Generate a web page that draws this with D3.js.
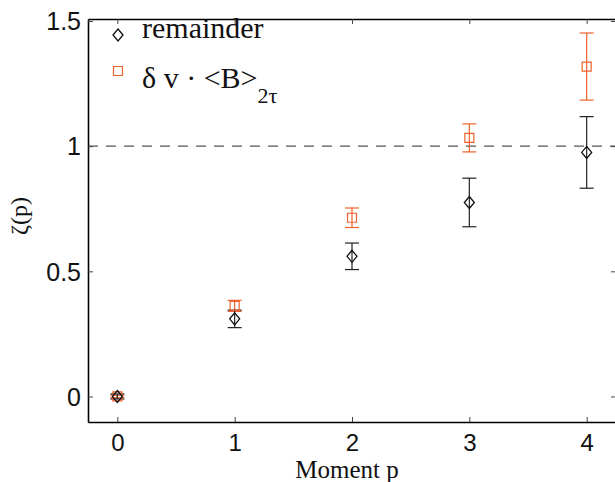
<!DOCTYPE html>
<html>
<head>
<meta charset="utf-8">
<script src="https://cdn.jsdelivr.net/npm/d3@7"></script>
<style>
  body { margin: 0; background: #fff; }
  svg { display: block; }
</style>
</head>
<body>
<div id="chart"></div>
<script>
var width = 615, height = 482;

// moment p
var moments = [0, 1, 2, 3, 4];
// remainder: zeta(p) and error
var remainderVals = [0, 0.31, 0.56, 0.775, 0.975];
var remainderErr  = [0.01, 0.035, 0.053, 0.097, 0.143];
// delta v . <B>_2tau
var dvbVals = [0, 0.362, 0.714, 1.033, 1.318];
var dvbErr  = [0.005, 0.022, 0.039, 0.056, 0.134];
var xTicks = [0, 1, 2, 3, 4];
var yTicks = [0, 0.5, 1, 1.5];

var orange = "#f0602c";

var svg = d3.select('#chart').append('svg')
    .attr('width', width)
    .attr('height', height);

var x = d3.scaleLinear().domain([-0.25, 4.25]).range([88, 616]);
var y = d3.scaleLinear().domain([-0.102, 1.508]).range([422, 19]);

var sans = "'Liberation Sans', Arial, sans-serif";
var serif = "'Liberation Serif', 'Times New Roman', serif";

// dashed reference line at 1
svg.append('line')
    .attr('x1', x.range()[0]).attr('x2', x.range()[1])
    .attr('y1', y(1)).attr('y2', y(1))
    .attr('stroke', '#555').attr('stroke-width', 1.2)
    .attr('stroke-dasharray', '10,8');

// axes (ticks pointing inwards)
var gx = svg.append('g').attr('transform', 'translate(0,' + y.range()[0] + ')')
    .call(d3.axisBottom(x).tickValues(xTicks).tickSizeInner(-5).tickSizeOuter(0).tickPadding(12).tickFormat(d3.format('d')));
var gxt = svg.append('g').attr('transform', 'translate(0,' + y.range()[1] + ')')
    .call(d3.axisTop(x).tickValues(xTicks).tickSizeInner(-5).tickSizeOuter(0).tickFormat(''));
var gy = svg.append('g').attr('transform', 'translate(' + x.range()[0] + ',0)')
    .call(d3.axisLeft(y).tickValues(yTicks).tickSizeInner(-5).tickSizeOuter(0).tickPadding(7).tickFormat(function(d){ return d3.format('')(d); }));
var gyr = svg.append('g').attr('transform', 'translate(' + x.range()[1] + ',0)')
    .call(d3.axisRight(y).tickValues(yTicks).tickSizeInner(-5).tickSizeOuter(0).tickFormat(''));

[gx, gxt, gy, gyr].forEach(function(g) {
  g.select('.domain').attr('stroke', '#000').attr('stroke-width', 1.6);
  g.selectAll('.tick line').attr('stroke', '#444').attr('stroke-width', 1);
  g.selectAll('.tick text').attr('font-family', sans).attr('font-size', 25).attr('fill', '#111');
});
gx.selectAll('.tick text').attr('font-size', 24).attr('dy', '0.71em');
gy.selectAll('.tick text').attr('dy', '0.35em');

// error bars
function errorBars(vals, errs, color, cls) {
  var g = svg.append('g').attr('class', cls);
  var pts = moments.map(function(m, i) { return {p: m, v: vals[i], e: errs[i]}; });
  g.selectAll('line.v').data(pts).enter().append('line')
    .attr('x1', function(d){ return x(d.p); }).attr('x2', function(d){ return x(d.p); })
    .attr('y1', function(d){ return y(d.v - d.e); }).attr('y2', function(d){ return y(d.v + d.e); })
    .attr('stroke', color).attr('stroke-width', 1.2);
  ['lo', 'hi'].forEach(function(k) {
    g.selectAll('line.' + k).data(pts).enter().append('line')
      .attr('x1', function(d){ return x(d.p) - 7; }).attr('x2', function(d){ return x(d.p) + 7; })
      .attr('y1', function(d){ return y(k === 'lo' ? d.v - d.e : d.v + d.e); })
      .attr('y2', function(d){ return y(k === 'lo' ? d.v - d.e : d.v + d.e); })
      .attr('stroke', color).attr('stroke-width', 1.2);
  });
  return pts;
}

var dvbPts = errorBars(dvbVals, dvbErr, orange, 'dvb');
var remPts = errorBars(remainderVals, remainderErr, '#222', 'rem');

var diamond = 'M0,-6L5,0L0,6L-5,0Z';
var square = 'M-4.5,-4.5H4.5V4.5H-4.5Z';

svg.append('g').selectAll('path').data(dvbPts).enter().append('path')
    .attr('d', square)
    .attr('transform', function(d){ return 'translate(' + x(d.p) + ',' + y(d.v) + ')'; })
    .attr('fill', 'none').attr('stroke', orange).attr('stroke-width', 1.2);

svg.append('g').selectAll('path').data(remPts).enter().append('path')
    .attr('d', diamond)
    .attr('transform', function(d){ return 'translate(' + x(d.p) + ',' + y(d.v) + ')'; })
    .attr('fill', 'none').attr('stroke', '#111').attr('stroke-width', 1.3);

// legend
var leg = svg.append('g');
leg.append('path').attr('d', diamond).attr('transform', 'translate(118,35)')
    .attr('fill', 'none').attr('stroke', '#111').attr('stroke-width', 1.3);
leg.append('text').attr('x', 142).attr('y', 38)
    .attr('font-family', serif).attr('font-size', 30).attr('fill', '#111').text('remainder');
leg.append('path').attr('d', square).attr('transform', 'translate(118,71)')
    .attr('fill', 'none').attr('stroke', orange).attr('stroke-width', 1.2);
var t2 = leg.append('text').attr('x', 142).attr('y', 88)
    .attr('font-family', serif).attr('font-size', 30).attr('fill', '#111');
t2.append('tspan').text('\u03b4 v \u00b7 <B>');
t2.append('tspan').attr('font-size', 22).attr('dy', 15).text('2\u03c4');

// axis labels
svg.append('text').attr('x', 347).attr('y', 478).attr('text-anchor', 'middle')
    .attr('font-family', serif).attr('font-size', 25).attr('fill', '#111').text('Moment p');
svg.append('text').attr('transform', 'translate(27,216) rotate(-90)').attr('text-anchor', 'middle')
    .attr('font-family', serif).attr('font-size', 24).attr('fill', '#111').text('\u03b6(p)');
</script>
</body>
</html>
